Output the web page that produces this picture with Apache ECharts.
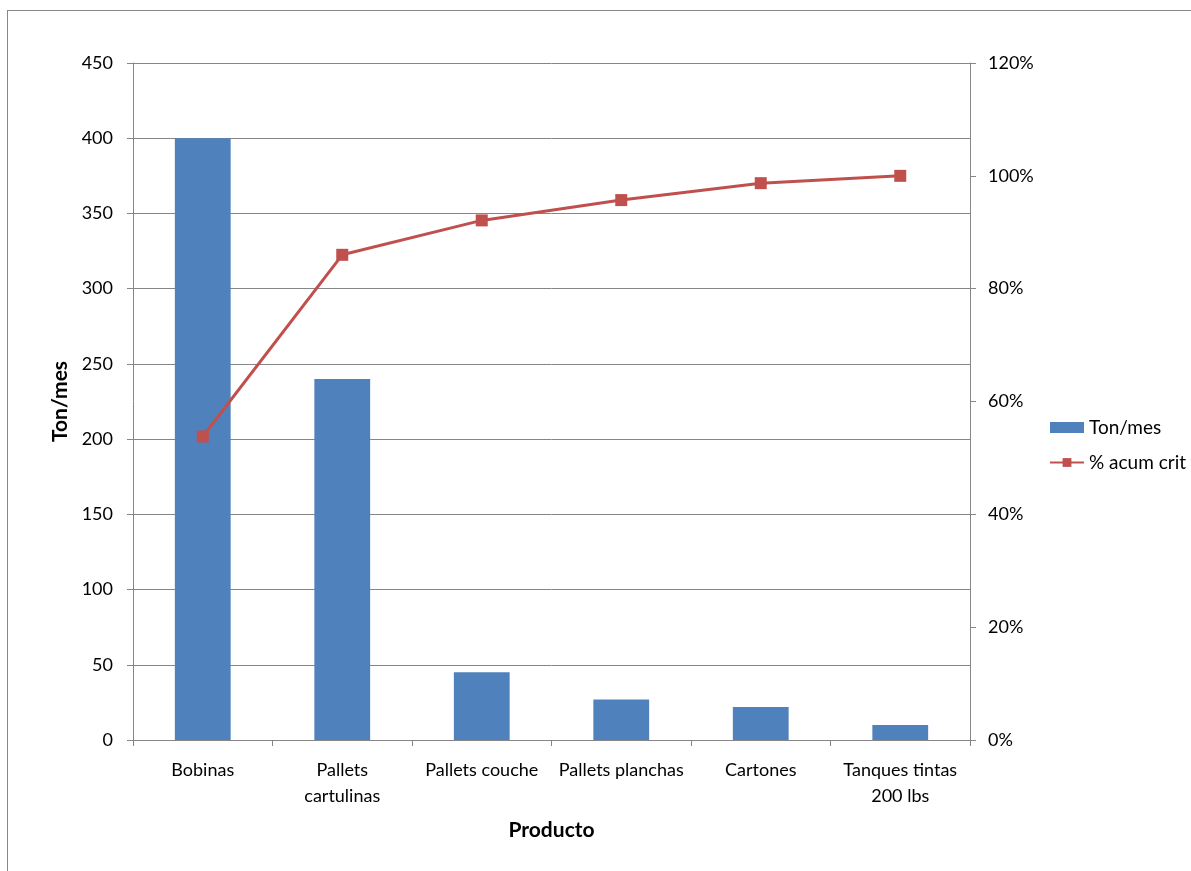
<!DOCTYPE html>
<html><head><meta charset="utf-8">
<script src="https://cdn.jsdelivr.net/npm/echarts@6/dist/echarts.min.js"></script>
<style>
html,body{margin:0;padding:0;background:#fff;}
#frame{position:absolute;left:7px;top:10px;width:1200px;height:900px;border:1px solid #888;box-sizing:border-box;}
#chart{position:absolute;left:0;top:0;width:1191px;height:871px;}
</style></head>
<body>
<div id="frame"></div>
<div id="chart"></div>
<script>
const categories = ["Bobinas", "Pallets\ncartulinas", "Pallets couche", "Pallets planchas", "Cartones", "Tanques tintas\n200 lbs"];
const tonMes = [400, 240, 45, 27, 22, 10];
const acumPct = [53.8, 86.0, 92.1, 95.7, 98.7, 100];
const leftTicks = {min: 0, max: 450, interval: 50};
const rightTicks = {min: 0, max: 120, interval: 20};

const font = "Lato, 'Open Sans', sans-serif";
const chart = echarts.init(document.getElementById('chart'));
chart.setOption({
  animation: false,
  textStyle: {fontFamily: font, color: '#000'},
  grid: {left: 133, right: 221, top: 63, bottom: 131, containLabel: false},
  legend: {
    orient: 'vertical', left: 1044, top: 413, itemGap: 16,
    itemWidth: 34, itemHeight: 11, itemTextGap: 4,
    textStyle: {fontSize: 19, fontFamily: font, color: '#000'},
    data: [{name: 'Ton/mes', icon: 'rect'}, {name: '% acum crit'}]
  },
  xAxis: {
    type: 'category', data: categories, boundaryGap: true,
    name: 'Producto', nameLocation: 'middle', nameGap: 80,
    nameTextStyle: {fontSize: 21, fontWeight: 'bold', color: '#000', fontFamily: font},
    axisLine: {lineStyle: {color: '#868686'}},
    axisTick: {show: true, length: 6, lineStyle: {color: '#868686'}},
    axisLabel: {fontSize: 18, color: '#000', margin: 17, lineHeight: 26, interval: 0, fontFamily: font}
  },
  yAxis: [{
    type: 'value', min: leftTicks.min, max: leftTicks.max, interval: leftTicks.interval,
    name: 'Ton/mes', nameLocation: 'middle', nameGap: 60, nameRotate: 90,
    nameTextStyle: {fontSize: 21, fontWeight: 'bold', color: '#000', fontFamily: font},
    axisLine: {show: true, lineStyle: {color: '#868686'}},
    axisTick: {show: true, length: 6, lineStyle: {color: '#868686'}},
    axisLabel: {fontSize: 18, color: '#000', margin: 20, fontFamily: font},
    splitLine: {show: true, lineStyle: {color: '#868686'}}
  }, {
    type: 'value', min: rightTicks.min, max: rightTicks.max, interval: rightTicks.interval,
    position: 'right',
    axisLine: {show: true, lineStyle: {color: '#868686'}},
    axisTick: {show: true, length: 6, lineStyle: {color: '#868686'}},
    axisLabel: {fontSize: 18, color: '#000', margin: 18, fontFamily: font, formatter: v => v + '%'},
    splitLine: {show: false}
  }],
  series: [{
    name: 'Ton/mes', type: 'bar', data: tonMes, barWidth: '40%',
    itemStyle: {color: '#4F81BD'}, yAxisIndex: 0
  }, {
    name: '% acum crit', type: 'line', data: acumPct, yAxisIndex: 1,
    symbol: 'rect', symbolSize: 12,
    lineStyle: {color: '#C0504D', width: 3},
    itemStyle: {color: '#C0504D'}
  }]
});
</script>
</body></html>
